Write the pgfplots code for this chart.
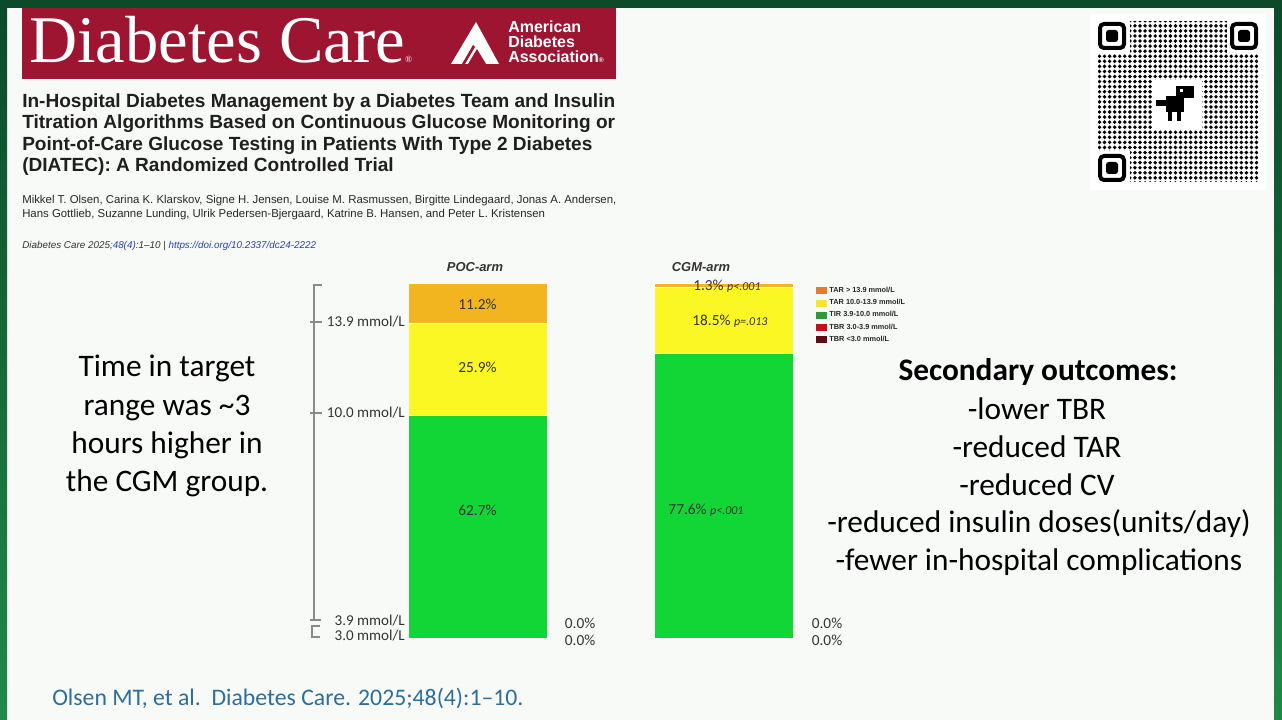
\documentclass[border=0pt]{standalone}
\usepackage{fontspec}
\setmainfont{Carlito}
\newfontfamily\arial{Liberation Sans}
\newfontfamily\tnr{Liberation Serif}
\usepackage{pgfplots}
\usepackage{pgfplotstable}
\pgfplotsset{compat=1.18}
\usetikzlibrary{patterns.meta}

\definecolor{slidebg}{HTML}{F8FAF8}
\definecolor{framedk}{HTML}{0C4A2A}
\definecolor{framelt}{HTML}{1F8A48}
\definecolor{dcred}{HTML}{9E1532}
\definecolor{barOr}{HTML}{F2B41F}
\definecolor{barYe}{HTML}{FBF724}
\definecolor{barGr}{HTML}{12D536}
\definecolor{legOr}{HTML}{E87A2A}
\definecolor{legYe}{HTML}{F7E43A}
\definecolor{legGr}{HTML}{2E9B3B}
\definecolor{legRd}{HTML}{C0111F}
\definecolor{legMr}{HTML}{5C0B12}
\definecolor{txtdk}{HTML}{333333}
\definecolor{brk}{HTML}{8A8A8A}
\definecolor{linkbl}{HTML}{2A3FB5}
\definecolor{citebl}{HTML}{2C6E9B}

\protected\def\labA#1{#1\%}
\protected\def\labB#1#2{#1\%~{\fontsize{9}{10}\selectfont\itshape #2}}

% stacked shares (%), bottom to top; x: 0 = POC-arm, 1 = CGM-arm
\pgfplotstableread{
x  tbrlow tbr tir  tarmid tarhi
0  0      0   62.7 25.9   11.2
1  0      0   80.2 18.5   1.3
}\shares

\pgfplotstableread{
x     y    lab
0     94.1 {\labA{11.2}}
0     76.3 {\labA{25.9}}
0     36.1 {\labA{62.7}}
1.012 99.1 {\labB{1.3}{p<.001}}
1.024 89.1 {\labB{18.5}{p=.013}}
0.927 36.1 {\labB{77.6}{p<.001}}
0.416 4.2  {\labA{0.0}}
0.416 -0.6 {\labA{0.0}}
1.418 4.2  {\labA{0.0}}
1.418 -0.6 {\labA{0.0}}
}\barlabels

\begin{document}
\begin{tikzpicture}
\begin{scope}[x=0.75pt,y=-0.75pt]
  \path[use as bounding box] (0,0) rectangle (1282,720);
  \fill[slidebg] (0,0) rectangle (1282,720);
  % green frame
  \shade[top color=framedk, bottom color=framelt] (0,0) rectangle (7,720);
  \shade[top color=framedk, bottom color=framelt] (1274,0) rectangle (1282,720);
  \fill[framedk] (0,0) rectangle (1282,8);
  % journal banner
  \fill[dcred] (22,8) rectangle (616,79);
  \node[anchor=base west, inner sep=0, text=white, font=\tnr\fontsize{50}{50}\selectfont]
    at (29,63) {Diabetes Care{\fontsize{7}{7}\selectfont ®}};
  \fill[white] (451,64) -- (476,22) -- (499,64) -- cycle;
  \fill[dcred] (468,64) -- (477,49) -- (486,64) -- cycle;
  \fill[dcred] (462,64) -- (473,45) -- (475,47) -- (465,64) -- cycle;
  \begin{scope}[every node/.style={anchor=base west, inner sep=0, text=white,
      font=\arial\bfseries\fontsize{12}{12}\selectfont}]
    \node at (508,33) {American};
    \node at (508,48) {Diabetes};
    \node at (508,63) {Association{\fontsize{5}{5}\selectfont ®}};
  \end{scope}
  % article title
  \begin{scope}[every node/.style={anchor=base west, inner sep=0, text=black!88,
      font=\arial\bfseries\fontsize{14.3}{15}\selectfont}]
    \node at (22,108) {In-Hospital Diabetes Management by a Diabetes Team and Insulin};
    \node at (22,129) {Titration Algorithms Based on Continuous Glucose Monitoring or};
    \node at (22,151) {Point-of-Care Glucose Testing in Patients With Type 2 Diabetes};
    \node at (22,172) {(DIATEC): A Randomized Controlled Trial};
  \end{scope}
  \begin{scope}[every node/.style={anchor=base west, inner sep=0, text=black!85,
      font=\arial\fontsize{8.55}{10}\selectfont}]
    \node at (22,204) {Mikkel T. Olsen, Carina K. Klarskov, Signe H. Jensen, Louise M. Rasmussen, Birgitte Lindegaard, Jonas A. Andersen,};
    \node at (22,218) {Hans Gottlieb, Suzanne Lunding, Ulrik Pedersen-Bjergaard, Katrine B. Hansen, and Peter L. Kristensen};
  \end{scope}
  \node[anchor=base west, inner sep=0, text=black!80, font=\arial\itshape\fontsize{7.4}{8}\selectfont]
    at (22,249) {Diabetes Care 2025;{\color{linkbl}48(4)}:1–10 | {\color{linkbl}https://doi.org/10.2337/dc24-2222}};
  % QR code
  \fill[white] (1090,14) rectangle (1266,190);
  \fill[pattern={Dots[distance=3.8pt, radius=1.45pt]}, pattern color=black] (1098,22) rectangle (1258,182);
  \foreach \qx/\qy in {1098/22, 1230/22, 1098/154} {
    \fill[white] (\qx-3,\qy-3) rectangle (\qx+32,\qy+32);
    \draw[black, line width=3pt, rounded corners=3pt] (\qx+2,\qy+2) rectangle (\qx+26,\qy+26);
    \fill[black, rounded corners=2pt] (\qx+8,\qy+8) rectangle (\qx+20,\qy+20);
  }
  \fill[white] (1152,80) rectangle (1202,130);
  \fill[black] (1176,86) rectangle (1194,98);
  \fill[black] (1166,96) rectangle (1184,112);
  \fill[black] (1156,100) rectangle (1167,106);
  \fill[black] (1168,111) rectangle (1172,121);
  \fill[black] (1177,111) rectangle (1181,121);
  \fill[white] (1180,89) rectangle (1183,92);
  % arm titles
  \node[anchor=base, inner sep=0, font=\arial\bfseries\itshape\fontsize{9.7}{10}\selectfont, text=txtdk]
    at (475,272) {POC-arm};
  \node[anchor=base, inner sep=0, font=\arial\bfseries\itshape\fontsize{9.7}{10}\selectfont, text=txtdk]
    at (701,272) {CGM-arm};
  % glucose range bracket
  \draw[brk, line width=0.9pt] (322,285) -- (314,285) -- (314,620);
  \draw[brk, line width=0.9pt] (310,322) -- (322,322);
  \draw[brk, line width=0.9pt] (310,413) -- (322,413);
  \draw[brk, line width=0.9pt] (310,620) -- (321,620);
  \draw[brk, line width=0.9pt] (320,626) -- (312,626) -- (312,637) -- (320,637);
  \begin{scope}[every node/.style={anchor=base east, inner sep=0, text=txtdk,
      font=\fontsize{11.3}{12}\selectfont}]
    \node at (405,327) {13.9 mmol/L};
    \node at (405,417) {10.0 mmol/L};
    \node at (405,625) {3.9 mmol/L};
    \node at (405,640) {3.0 mmol/L};
  \end{scope}
  % slide text
  \begin{scope}[every node/.style={anchor=base, inner sep=0, text=black,
      font=\fontsize{23.5}{28}\selectfont}]
    \node at (167,377) {Time in target};
    \node at (167,415) {range was \textasciitilde3};
    \node at (167,453) {hours higher in};
    \node at (167,491) {the CGM group.};
    \node[font=\fontsize{23.5}{28}\selectfont\bfseries] at (1038,381) {Secondary outcomes:};
    \node at (1037,419) {-lower TBR};
    \node at (1037,457) {-reduced TAR};
    \node at (1037,495) {-reduced CV};
    \node at (1039,532) {-reduced insulin doses(units/day)};
    \node at (1039,570) {-fewer in-hospital complications};
  \end{scope}
  \node[anchor=base west, inner sep=0, text=citebl, font=\fontsize{17.8}{20}\selectfont]
    at (52,705) {Olsen MT, et al.\ \ Diabetes Care. 2025;48(4):1–10.};
\end{scope}

\begin{axis}[
  at={(265.69pt,-478.5pt)}, anchor=south west,
  scale only axis, width=369.75pt, height=266.25pt,
  xmin=-0.5, xmax=1.5, ymin=0, ymax=100,
  hide axis, clip=false,
  ybar stacked, bar width=104.25pt,
]
  \addplot[fill=legMr, draw=none] table[x=x, y=tbrlow] {\shares};
  \addplot[fill=legRd, draw=none] table[x=x, y=tbr] {\shares};
  \addplot[fill=barGr, draw=white, line width=0.4pt] table[x=x, y=tir] {\shares};
  \addplot[fill=barYe, draw=white, line width=0.4pt] table[x=x, y=tarmid] {\shares};
  \addplot[fill=barOr, draw=white, line width=0.4pt] table[x=x, y=tarhi] {\shares};
\end{axis}

\begin{axis}[
  at={(265.69pt,-478.5pt)}, anchor=south west,
  scale only axis, width=369.75pt, height=266.25pt,
  xmin=-0.5, xmax=1.5, ymin=0, ymax=100,
  hide axis, clip=false,
  legend style={draw=none, fill=none, at={(0.9366,0.997)}, anchor=north west,
    font=\arial\bfseries\fontsize{5.5}{6}\selectfont, text=black!85,
    row sep=-0.3pt, inner sep=0pt, legend cell align=left},
]
  \addplot[draw=none, mark=none, forget plot, nodes near coords, point meta=explicit symbolic,
    every node near coord/.append style={anchor=center, inner sep=0pt, text=txtdk,
      font=\fontsize{11.5}{12}\selectfont}]
    table[x=x, y=y, meta=lab] {\barlabels};
  \addlegendimage{legend image code/.code={\fill[legOr] (0pt,-2.3pt) rectangle (7.5pt,2.3pt);}}
  \addlegendentry{TAR > 13.9 mmol/L}
  \addlegendimage{legend image code/.code={\fill[legYe] (0pt,-2.3pt) rectangle (7.5pt,2.3pt);}}
  \addlegendentry{TAR 10.0-13.9 mmol/L}
  \addlegendimage{legend image code/.code={\fill[legGr] (0pt,-2.3pt) rectangle (7.5pt,2.3pt);}}
  \addlegendentry{TIR 3.9-10.0 mmol/L}
  \addlegendimage{legend image code/.code={\fill[legRd] (0pt,-2.3pt) rectangle (7.5pt,2.3pt);}}
  \addlegendentry{TBR 3.0-3.9 mmol/L}
  \addlegendimage{legend image code/.code={\fill[legMr] (0pt,-2.3pt) rectangle (7.5pt,2.3pt);}}
  \addlegendentry{TBR <3.0 mmol/L}
\end{axis}
\end{tikzpicture}
\end{document}
